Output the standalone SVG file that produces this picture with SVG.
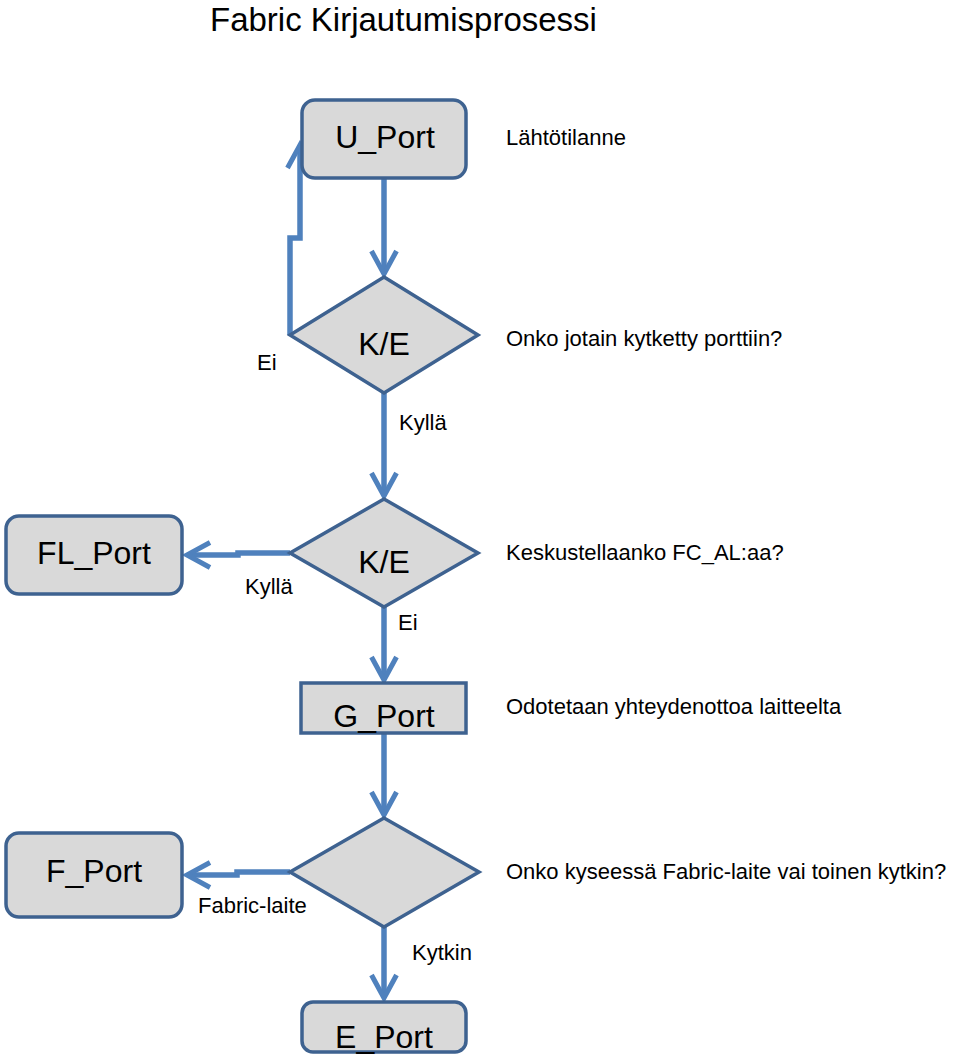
<svg xmlns="http://www.w3.org/2000/svg" width="960" height="1057" viewBox="0 0 960 1057">
<defs>
<style>
.node{fill:#d9d9d9;stroke:#3e6290;stroke-width:3.5}
.nt{font-family:"Liberation Sans",Arial,sans-serif;font-size:32px;fill:#000;text-anchor:middle}
.lbl{font-family:"Liberation Sans",Arial,sans-serif;font-size:22px;fill:#000}
.title{font-family:"Liberation Sans",Arial,sans-serif;font-size:33px;fill:#000}
.conn{fill:none;stroke:#4f81bd;stroke-width:5.5;marker-end:url(#chev)}
</style>
<marker id="chev" markerUnits="userSpaceOnUse" viewBox="-30 -16 34 32" refX="0" refY="0" markerWidth="34" markerHeight="32" orient="auto" overflow="visible">
<path d="M -23 -12.5 L 0 0 L -23 12.5" fill="none" stroke="#4f81bd" stroke-width="5"/>
</marker>
</defs>
<rect width="960" height="1057" fill="#fff"/>
<text class="title" x="210" y="31">Fabric Kirjautumisprosessi</text>

<g id="connectors">
<path class="conn" d="M 384 178 L 384 274"/>
<path class="conn" d="M 290 335 L 290 238 L 300 238 L 300 145"/>
<path class="conn" d="M 384 393 L 384 496"/>
<path class="conn" d="M 290 553 L 238 553 L 238 555 L 187 555"/>
<path class="conn" d="M 384 607 L 384 680"/>
<path class="conn" d="M 384 733 L 384 815"/>
<path class="conn" d="M 290 872 L 237 872 L 237 875 L 187 875"/>
<path class="conn" d="M 384 927 L 384 998"/>
</g>

<g id="u_port">
<rect class="node" x="302" y="100" width="164" height="78" rx="13"/>
<text class="nt" x="385" y="148">U_Port</text>
</g>
<g id="decision1">
<polygon class="node" points="384,277 478,335 384,393 290,335"/>
<text class="nt" x="384" y="355">K/E</text>
</g>
<g id="decision2">
<polygon class="node" points="384,499 478,553 384,607 290,553"/>
<text class="nt" x="384" y="573">K/E</text>
</g>
<g id="fl_port">
<rect class="node" x="6" y="516" width="176" height="78" rx="13"/>
<text class="nt" x="94" y="564">FL_Port</text>
</g>
<g id="g_port">
<rect class="node" x="301" y="683" width="165" height="50"/>
<text class="nt" x="384" y="727">G_Port</text>
</g>
<g id="decision3">
<polygon class="node" points="384,818 479,872 384,927 290,872"/>
</g>
<g id="f_port">
<rect class="node" x="6" y="833" width="176" height="84" rx="13"/>
<text class="nt" x="94" y="882">F_Port</text>
</g>
<g id="e_port">
<rect class="node" x="302" y="1002" width="164" height="50" rx="11"/>
<text class="nt" x="384" y="1048">E_Port</text>
</g>

<g id="labels">
<text class="lbl" x="506" y="145">Lähtötilanne</text>
<text class="lbl" x="257" y="370">Ei</text>
<text class="lbl" x="506" y="346">Onko jotain kytketty porttiin?</text>
<text class="lbl" x="399" y="430">Kyllä</text>
<text class="lbl" x="506" y="560">Keskustellaanko FC_AL:aa?</text>
<text class="lbl" x="245" y="594">Kyllä</text>
<text class="lbl" x="398" y="630">Ei</text>
<text class="lbl" x="506" y="714">Odotetaan yhteydenottoa laitteelta</text>
<text class="lbl" x="506" y="879">Onko kyseessä Fabric-laite vai toinen kytkin?</text>
<text class="lbl" x="198" y="913">Fabric-laite</text>
<text class="lbl" x="412" y="960">Kytkin</text>
</g>
</svg>
